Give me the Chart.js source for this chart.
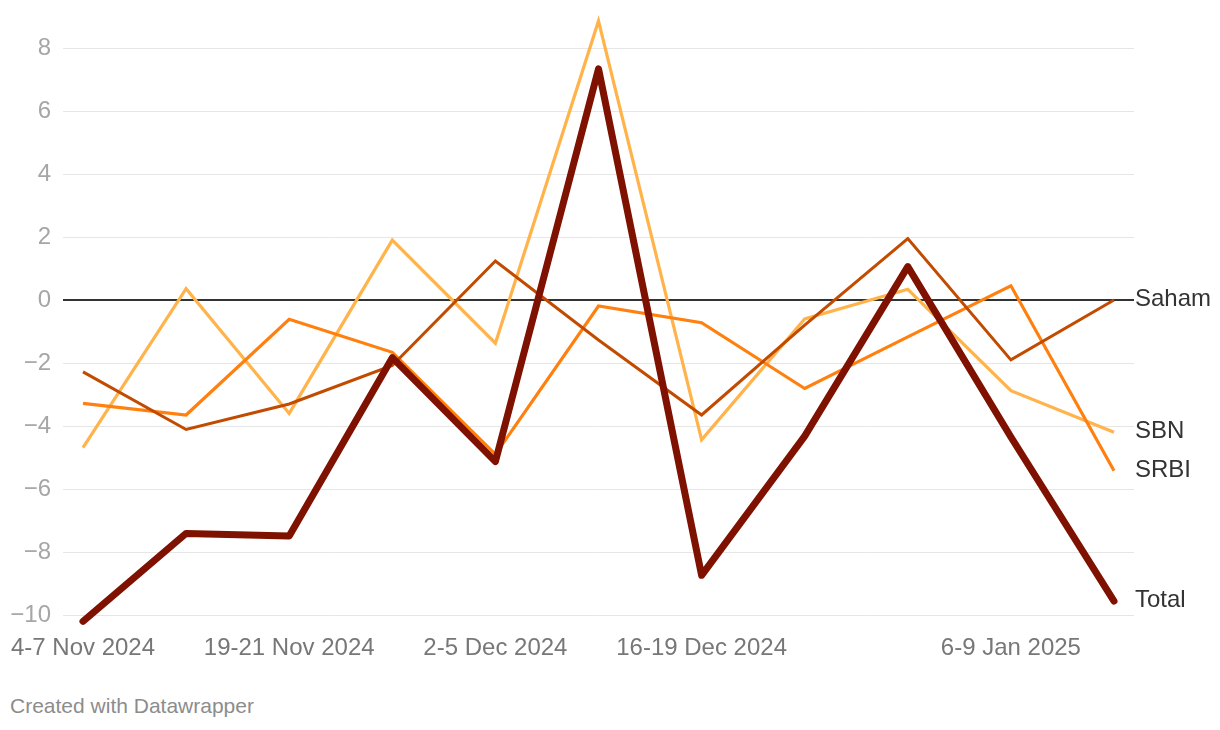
<!DOCTYPE html>
<html><head><meta charset="utf-8">
<script src="https://cdn.jsdelivr.net/npm/chart.js@4.4.1/dist/chart.umd.min.js"></script>
<style>
html,body{margin:0;padding:0;background:#fff;}
#wrap{position:absolute;left:0;top:0;width:1220px;height:680px;}
#foot{position:absolute;left:10px;top:694px;font:21px "Liberation Sans",Arial,sans-serif;color:#8c8c8c;white-space:nowrap;}
</style></head><body>
<div id="wrap"><canvas id="c" width="1220" height="680"></canvas></div>
<div id="foot">Created with Datawrapper</div>
<script>
const categories = ["4-7 Nov 2024","11-14 Nov 2024","19-21 Nov 2024","25-28 Nov 2024","2-5 Dec 2024","9-12 Dec 2024","16-19 Dec 2024","23-24 Dec 2024","30 Dec 2024-2 Jan 2025","6-9 Jan 2025","13-16 Jan 2025"];
const tickLabels = ["4-7 Nov 2024","19-21 Nov 2024","2-5 Dec 2024","16-19 Dec 2024","6-9 Jan 2025"];
const yTicks = [-10,-8,-6,-4,-2,0,2,4,6,8];
const seriesNames = ["Total","Saham","SRBI","SBN"];
const total = [-10.2,-7.41,-7.49,-1.83,-5.13,7.34,-8.74,-4.32,1.06,-4.35,-9.56];
const saham = [-2.28,-4.11,-3.3,-2.08,1.24,-1.27,-3.65,-0.8,1.95,-1.9,0.0];
const srbi  = [-3.28,-3.65,-0.61,-1.66,-4.9,-0.19,-0.72,-2.81,-1.17,0.45,-5.42];
const sbn   = [-4.69,0.36,-3.6,1.9,-1.37,8.86,-4.44,-0.6,0.34,-2.88,-4.2];

const FONT = '"Liberation Sans", Arial, Helvetica, sans-serif';
const pts = arr => arr.map((v,i)=>({x:i,y:v}));

const endLabels = {
  id:'endLabels',
  afterDatasetsDraw(chart){
    const ctx = chart.ctx;
    ctx.save();
    ctx.font = '24px ' + FONT;
    ctx.fillStyle = '#333';
    ctx.textAlign = 'left';
    ctx.textBaseline = 'middle';
    chart.data.datasets.forEach((ds,i)=>{
      const meta = chart.getDatasetMeta(i);
      const p = meta.data[meta.data.length-1];
      ctx.fillText(ds.label, chart.chartArea.right + 1, p.y - 0.5);
    });
    ctx.restore();
  }
};

new Chart(document.getElementById('c'), {
  type:'line',
  data:{ datasets:[
    {label:seriesNames[0], data:pts(total), borderColor:'#7f1100', borderWidth:7, borderCapStyle:'round', borderJoinStyle:'round'},
    {label:seriesNames[1], data:pts(saham), borderColor:'#c24b00', borderWidth:3},
    {label:seriesNames[2], data:pts(srbi),  borderColor:'#ff800f', borderWidth:3.2},
    {label:seriesNames[3], data:pts(sbn),   borderColor:'#ffb34a', borderWidth:3.2}
  ].map(d=>Object.assign({pointRadius:0, pointHoverRadius:0, tension:0, fill:false, clip:false}, d))},
  options:{
    responsive:false, animation:false, devicePixelRatio:1,
    events:[],
    layout:{padding:{left:0,right:86,top:16.5,bottom:0}},
    plugins:{legend:{display:false}, tooltip:{enabled:false}},
    scales:{
      x:{
        type:'linear', min:-0.194, max:10.194,
        grid:{display:false}, border:{display:false},
        afterBuildTicks(axis){ axis.ticks = tickLabels.map(l=>({value:categories.indexOf(l)})); },
        afterFit(s){ s.height = 65; s.paddingLeft = 0; s.paddingRight = 0; },
        ticks:{
          autoSkip:false, maxRotation:0, padding:11,
          color:'#777', font:{family:FONT,size:24},
          callback:v=>categories[v]
        }
      },
      y:{
        min:-10, max:9,
        border:{display:false},
        afterBuildTicks(axis){ axis.ticks = yTicks.map(v=>({value:v})); },
        afterFit(s){ s.width = 63; s.paddingTop = 0; s.paddingBottom = 0; },
        grid:{
          drawTicks:false,
          color:c=>c.tick && c.tick.value===0 ? '#333' : '#e6e6e6',
          lineWidth:c=>c.tick && c.tick.value===0 ? 2 : 1
        },
        ticks:{
          padding:12, color:'#a6a6a6', font:{family:FONT,size:24},
          callback:v=> v<0 ? '\u2212'+Math.abs(v) : String(v)
        }
      }
    }
  },
  plugins:[endLabels]
});
</script>
</body></html>
